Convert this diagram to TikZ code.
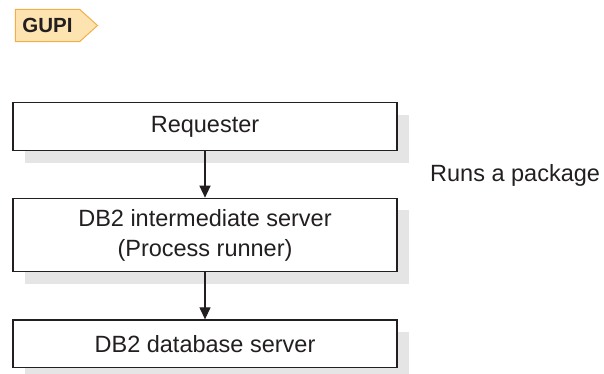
\documentclass[tikz,border=0pt]{standalone}
\usepackage{fontspec}
\setmainfont{Liberation Sans}
\usetikzlibrary{positioning,arrows.meta,shapes.symbols,shadows}
\definecolor{boxline}{RGB}{35,31,32}
\definecolor{boxshade}{RGB}{229,229,230}
\definecolor{tagfill}{RGB}{253,227,176}
\definecolor{tagline}{RGB}{242,174,73}

\begin{document}
\begin{tikzpicture}[x=1pt,y=1pt,
    box/.style={draw=boxline,line width=1.2pt,fill=white,text=boxline,
        minimum width=384pt,inner sep=0pt,align=center,
        font=\fontsize{23.5}{30}\selectfont,
        general shadow={fill=boxshade,shadow xshift=12pt,shadow yshift=-12pt}},
    flow/.style={draw=boxline,line width=1.2pt,-{Triangle[length=12pt,width=11pt]}},
    note/.style={text=boxline,inner sep=0pt,font=\fontsize{23.5}{30}\selectfont},
    gupitag/.style={shape=signal,signal to=east,signal pointer angle=84,
        fill=tagfill,draw=tagline,line width=1pt,text=boxline,
        inner xsep=7pt,inner ysep=0pt,minimum height=32.4pt,
        text height=14pt,text depth=0pt,
        font=\fontsize{20.5}{21}\selectfont\bfseries}]
    \useasboundingbox (0,0) rectangle (604,373);
    % Etiqueta
    \node[gupitag] (gupi) at (47.5,347.5) {GUPI};
    % Caixas
    \node[box,minimum height=48pt] (req) at (205,246.3) {Requester};
    \node[box,minimum height=73.4pt] (runner) at (205,138)
        {DB2 intermediate server\\(Process runner)};
    \node[box,minimum height=47.7pt] (dbserver) at (205,29.2) {DB2 database server};
    % Setas
    \draw[flow] (req.south) -- (runner.north);
    \draw[flow] (runner.south) -- (dbserver.north);
    % Nota
    \node[note,anchor=base west] (runs) at (430,191.3) {Runs a package};
\end{tikzpicture}
\end{document}
